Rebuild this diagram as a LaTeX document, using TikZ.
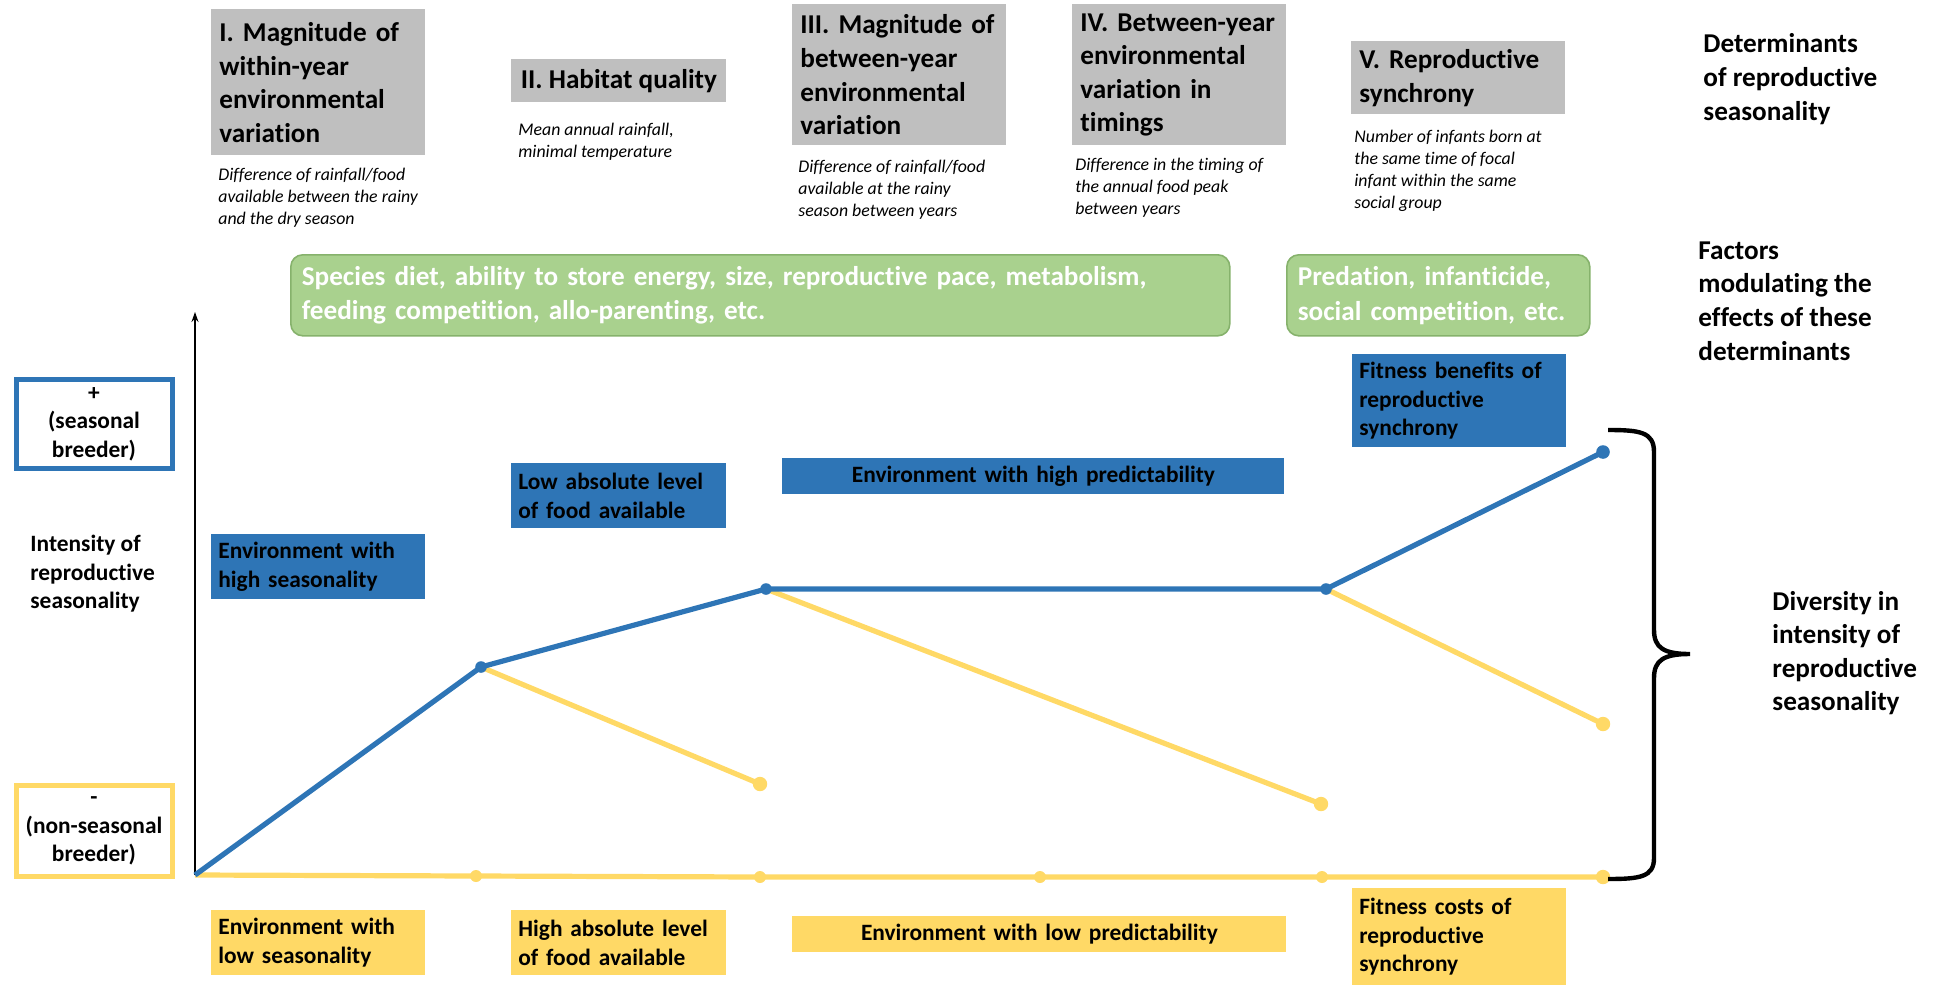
\documentclass[tikz,border=0pt]{standalone}
\usepackage{fontspec}
\setmainfont{Carlito}[Ligatures={TeX,NoCommon}]
\usetikzlibrary{arrows.meta, positioning}
\definecolor{seablue}{HTML}{2E75B6}
\definecolor{sunyellow}{HTML}{FFD966}
\definecolor{boxgray}{HTML}{BFBFBF}
\definecolor{leafgreen}{HTML}{A9D18E}
\definecolor{leafedge}{HTML}{86B26C}
\newcommand{\detfont}{\fontsize{13.6}{16.8}\selectfont\bfseries}
\newcommand{\notefont}{\fontsize{8.9}{10.9}\selectfont\itshape}
\newcommand{\greenfont}{\fontsize{13.6}{17.4}\selectfont\bfseries}
\newcommand{\effectfont}{\fontsize{11.7}{14.3}\selectfont\bfseries}

\begin{document}
\begin{tikzpicture}[x=0.5pt, y=-0.5pt,
  >={Stealth[length=5pt, width=3.5pt]},
  detbox/.style={fill=boxgray, anchor=north west, align=left, inner xsep=4pt, font=\detfont},
  note/.style={anchor=north west, align=left, inner sep=0pt, font=\notefont},
  modbox/.style={fill=leafgreen, draw=leafedge, line width=0.8pt, rounded corners=6pt, anchor=north west, align=left, inner xsep=5.5pt, text=white, font=\greenfont},
  effbox/.style={anchor=north west, align=left, inner xsep=3.5pt, font=\effectfont},
  posbox/.style={effbox, fill=seablue},
  negbox/.style={effbox, fill=sunyellow},
  endbox/.style={line width=2.5pt, align=center, font=\effectfont, minimum width=78pt},
  sidelabel/.style={anchor=west, align=left, inner sep=0pt, font=\detfont},
  posline/.style={seablue, line width=2.6pt},
  negline/.style={sunyellow, line width=2.6pt}]

\useasboundingbox (0,0) rectangle (1943,985);

%% Determinants
\node[detbox, text width=99pt, minimum height=73pt] (magwithin) at (211,9) {I. Magnitude of\\within-year\\environmental\\variation};
\node[detbox, minimum width=107.5pt, minimum height=21.5pt] (habitat) at (511,59) {II. Habitat quality};
\node[detbox, text width=99pt, minimum height=70.5pt] (magbetween) at (792,4) {III. Magnitude of\\between-year\\environmental\\variation};
\node[detbox, text width=99pt, minimum height=70.5pt] (timing) at (1072,4) {IV. Between-year\\environmental\\variation in\\timings};
\node[detbox, text width=99pt, minimum height=36.5pt] (synchrony) at (1351,41) {V. Reproductive\\synchrony};

% Descriptions under each determinant
\node[note] (magwithinnote) at (218,168) {Difference of rainfall/food\\available between the rainy\\and the dry season};
\node[note] (habitatnote) at (518,123) {Mean annual rainfall,\\minimal temperature};
\node[note] (magbetweennote) at (798,160) {Difference of rainfall/food\\available at the rainy\\season between years};
\node[note] (timingnote) at (1075,158) {Difference in the timing of\\the annual food peak\\between years};
\node[note] (synchronynote) at (1354,130) {Number of infants born at\\the same time of focal\\infant within the same\\social group};

%% Modulating factors
\node[modbox, text width=458.5pt, minimum height=40.5pt] (traits) at (290,254) {Species diet, ability to store energy, size, reproductive pace, metabolism,\\feeding competition, allo-parenting, etc.};
\node[modbox, text width=140.5pt, minimum height=40.5pt] (social) at (1286,254) {Predation, infanticide,\\social competition, etc.};

% Right-hand labels
\node[sidelabel] (detlabel) at (1703,79) {Determinants\\of reproductive\\seasonality};
\node[sidelabel] (factlabel) at (1698,301) {Factors\\modulating the\\effects of these\\determinants};
\node[sidelabel] (divlabel) at (1772,653) {Diversity in\\intensity of\\reproductive\\seasonality};

%% Axis and its ends
\node[endbox, draw=seablue, minimum height=44.5pt] (seasonal) at (94,424) {+\\(seasonal\\breeder)};
\node[endbox, draw=sunyellow, minimum height=45.5pt] (nonseasonal) at (94,831) {-\\(non-seasonal\\breeder)};
\node[anchor=west, align=left, inner sep=0pt, font=\effectfont] (intensity) at (30,574) {Intensity of\\reproductive\\seasonality};

\coordinate (o) at (195,875);
\coordinate (axtop) at (195,312);
\draw[->, line width=0.6pt] (o) -- (axtop);

%% Effects raising seasonality (blue)
\node[posbox, text width=100pt, minimum height=32.5pt] (highseas) at (211,534) {Environment with\\high seasonality};
\node[posbox, text width=100.5pt, minimum height=32.5pt] (lowfood) at (511,463) {Low absolute level\\of food available};
\node[posbox, align=center, text width=244pt, minimum height=18pt] (highpred) at (782,458) {Environment with high predictability};
\node[posbox, text width=100pt, minimum height=46.5pt] (synbenefit) at (1352,354) {Fitness benefits of\\reproductive\\synchrony};

%% Effects lowering seasonality (yellow)
\node[negbox, text width=100pt, minimum height=32.5pt] (lowseas) at (211,910) {Environment with\\low seasonality};
\node[negbox, text width=100.5pt, minimum height=32.5pt] (highfood) at (511,910) {High absolute level\\of food available};
\node[negbox, align=center, text width=240pt, minimum height=18pt] (lowpred) at (792,916) {Environment with low predictability};
\node[negbox, text width=100pt, minimum height=48.5pt] (syncost) at (1352,888) {Fitness costs of\\reproductive\\synchrony};

%% Trajectories
\coordinate (a) at (481,667);
\coordinate (b) at (766,589);
\coordinate (c) at (1326,589);
\coordinate (d) at (1603,452);
\coordinate (a1) at (760,784);
\coordinate (b1) at (1321,804);
\coordinate (c1) at (1603,724);
\coordinate (z1) at (476,876);
\coordinate (z2) at (760,877);
\coordinate (z3) at (1040,877);
\coordinate (z4) at (1322,877);
\coordinate (z5) at (1603,877);

% Yellow branches
\draw[negline] (o) -- (z1) -- (z2) -- (z3) -- (z4) -- (z5);
\draw[negline] (a) -- (a1);
\draw[negline] (b) -- (b1);
\draw[negline] (c) -- (c1);
\foreach \p in {z1,z2,z3,z4} {
  \fill[sunyellow] (\p) circle (3pt);
}
\foreach \p in {a1,b1,c1,z5} {
  \fill[sunyellow] (\p) circle (3.6pt);
}

% Blue path
\draw[posline, line join=round] (o) -- (a) -- (b) -- (c) -- (d);
\foreach \p in {a,b,c} {
  \fill[seablue] (\p) circle (2.9pt);
}
\fill[seablue] (d) circle (3.4pt);

% Brace
\draw[line width=2.2pt] (1608,430) .. controls (1640,430) and (1654,432) .. (1654,452)
  -- (1654,630) .. controls (1654,648) and (1664,654) .. (1690,654)
  .. controls (1664,654) and (1654,660) .. (1654,678)
  -- (1654,858) .. controls (1654,877) and (1640,879) .. (1608,879);

\end{tikzpicture}
\end{document}
